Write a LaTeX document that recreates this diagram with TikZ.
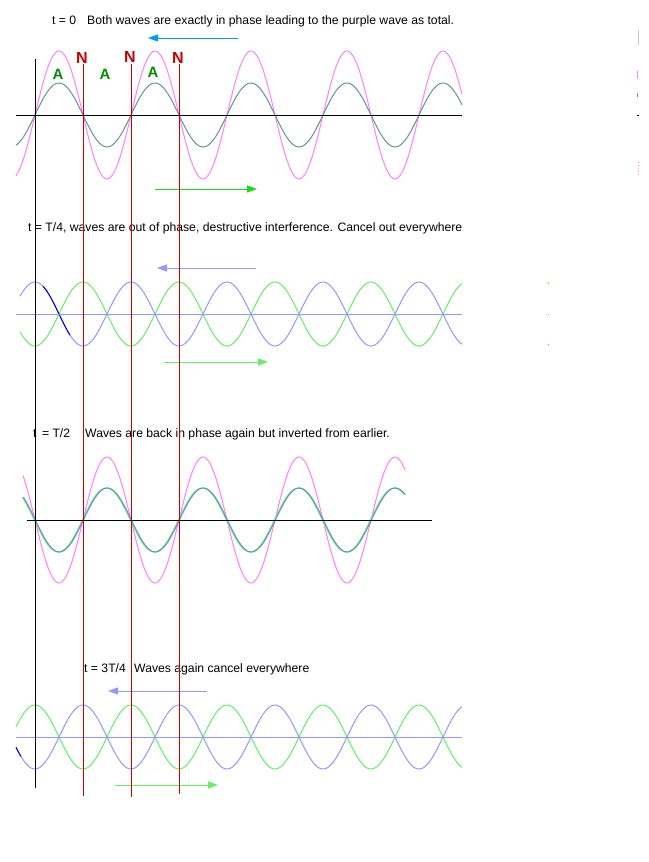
\documentclass[tikz,border=0pt]{standalone}
\usepackage{fontspec}
\setmainfont{Liberation Sans}
\usepackage{xcolor}
\usetikzlibrary{arrows.meta, positioning, calc}
\definecolor{pinkwave}{RGB}{255,128,255}
\definecolor{tealwave}{RGB}{96,150,150}
\definecolor{lavender}{RGB}{150,150,255}
\definecolor{greenwave}{RGB}{100,240,100}
\definecolor{bluearrow}{RGB}{0,153,255}
\definecolor{greenarrow}{RGB}{20,225,20}
\definecolor{nodered}{RGB}{200,0,0}
\definecolor{antigreen}{RGB}{0,140,0}
\definecolor{darkblue}{RGB}{0,0,210}
\definecolor{sumblue}{RGB}{100,135,205}

\begin{document}
\begin{tikzpicture}[
    x=1pt, y=-1pt,
    caption/.style={anchor=base west, inner sep=0pt, font=\fontsize{12.2}{14}\selectfont},
    nlabel/.style={anchor=base, inner sep=0pt, text=nodered, font=\fontsize{16}{18}\selectfont\bfseries},
    alabel/.style={anchor=base, inner sep=0pt, text=antigreen, font=\fontsize{15}{18}\selectfont\bfseries},
    wave/.style={line width=1pt, smooth, samples=220},
    travel/.style={line width=1pt, -{Triangle[length=10pt, width=7pt]}}
]
    \useasboundingbox (0,0) rectangle (648,862);

    % t = 0  (phase 3.75 deg per pt: period 96pt)
    \node[caption] (cap0) at (52,24) {t = 0};
    \node[caption] (txt0) at (87,24) {Both waves are exactly in phase leading to the purple wave as total.};
    \draw[wave, pinkwave] plot[domain=16:462] (\x, {115-64*sin(3.75*(\x-35))});
    \draw[wave, tealwave] plot[domain=16:462] (\x, {115-32*sin(3.75*(\x-35))});
    \draw[line width=1pt] (16,115) -- (462,115);
    \coordinate (bl0s) at (238,38);  \coordinate (bl0e) at (148,38);
    \coordinate (gr0s) at (155,189); \coordinate (gr0e) at (257,189);
    \draw[travel, bluearrow] (bl0s) -- (bl0e);
    \draw[travel, greenarrow] (gr0s) -- (gr0e);

    % t = T/4
    \node[caption] (cap1) at (28,231) {t = T/4, waves are out of phase, destructive interference. Cancel out everywhere};
    \draw[wave, greenwave] plot[domain=20:462] (\x, {314+32*cos(3.75*(\x-35))});
    \draw[wave, lavender] plot[domain=20:462] (\x, {314-32*cos(3.75*(\x-35))});
    \draw[wave, darkblue] plot[domain=43:70, samples=40] (\x, {314-32*cos(3.75*(\x-35))});
    \draw[line width=1pt, lavender] (16,314) -- (462,314);
    \coordinate (lv1s) at (256,268); \coordinate (lv1e) at (157,268);
    \coordinate (gr1s) at (164,362); \coordinate (gr1e) at (268,362);
    \draw[travel, lavender] (lv1s) -- (lv1e);
    \draw[travel, greenwave] (gr1s) -- (gr1e);

    % t = T/2
    \node[caption] (cap2) at (33,437) {t \,= T/2};
    \node[caption] (txt2) at (85,437) {Waves are back in phase again but inverted from earlier.};
    \draw[wave, pinkwave] plot[domain=23:405] (\x, {520+63*sin(3.75*(\x-35))});
    \draw[wave, greenwave, line width=1.3pt, xshift=-0.5pt] plot[domain=23:405] (\x, {520+32*sin(3.75*(\x-35))});
    \draw[wave, sumblue, line width=0.9pt, xshift=0.4pt] plot[domain=23:405] (\x, {520+32*sin(3.75*(\x-35))});
    \draw[line width=1pt] (27,520) -- (432,520);

    % t = 3T/4
    \node[caption] (cap3) at (84,672) {t = 3T/4};
    \node[caption] (txt3) at (134,672) {Waves again cancel everywhere};
    \draw[wave, greenwave] plot[domain=16:462] (\x, {737-32*cos(3.75*(\x-35))});
    \draw[wave, lavender] plot[domain=16:462] (\x, {737+32*cos(3.75*(\x-35))});
    \draw[wave, darkblue] plot[domain=16:21, samples=10] (\x, {737+32*cos(3.75*(\x-35))});
    \draw[line width=1pt, lavender] (16,737) -- (462,737);
    \coordinate (lv3s) at (207,691); \coordinate (lv3e) at (108,691);
    \coordinate (gr3s) at (115,785); \coordinate (gr3e) at (218,785);
    \draw[travel, lavender] (lv3s) -- (lv3e);
    \draw[travel, greenwave] (gr3s) -- (gr3e);

    % node and antinode markers
    \coordinate (orgtop) at (35,59); \coordinate (orgbot) at (35,788);
    \draw[line width=1pt] (orgtop) -- (orgbot);
    \foreach \nx/\nb/\ne in {83/63/796, 131/62/797, 179/63/794} {
        \coordinate (nt\nx) at (\nx,64); \coordinate (nb\nx) at (\nx,\ne);
        \draw[line width=1pt, nodered] (nt\nx) -- (nb\nx);
        \node[nlabel] (n\nx) at (\nx-1,\nb) {N};
    }
    \foreach \ax/\ab in {58/79, 105/79, 153/77}
        \node[alabel] (a\ax) at (\ax,\ab) {A};

    % stray marks at the right edge
    \draw[line width=1pt, black!22] (638,30) -- (638,45);
    \draw[line width=1pt, pinkwave] (637.5,71) -- (637.5,79);
    \draw[line width=1pt, tealwave] (637.5,93) -- (637.5,97);
    \draw[line width=1pt] (637,115) -- (639,115);
    \draw[line width=1pt, pinkwave, dotted] (638,162) -- (638,175);
    \draw[line width=1pt, greenwave] (548,282) -- (548.8,284);
    \draw[line width=1pt, lavender] (547.5,314) -- (549,314);
    \draw[line width=1pt, lavender] (548,344) -- (549,345);
\end{tikzpicture}
\end{document}
